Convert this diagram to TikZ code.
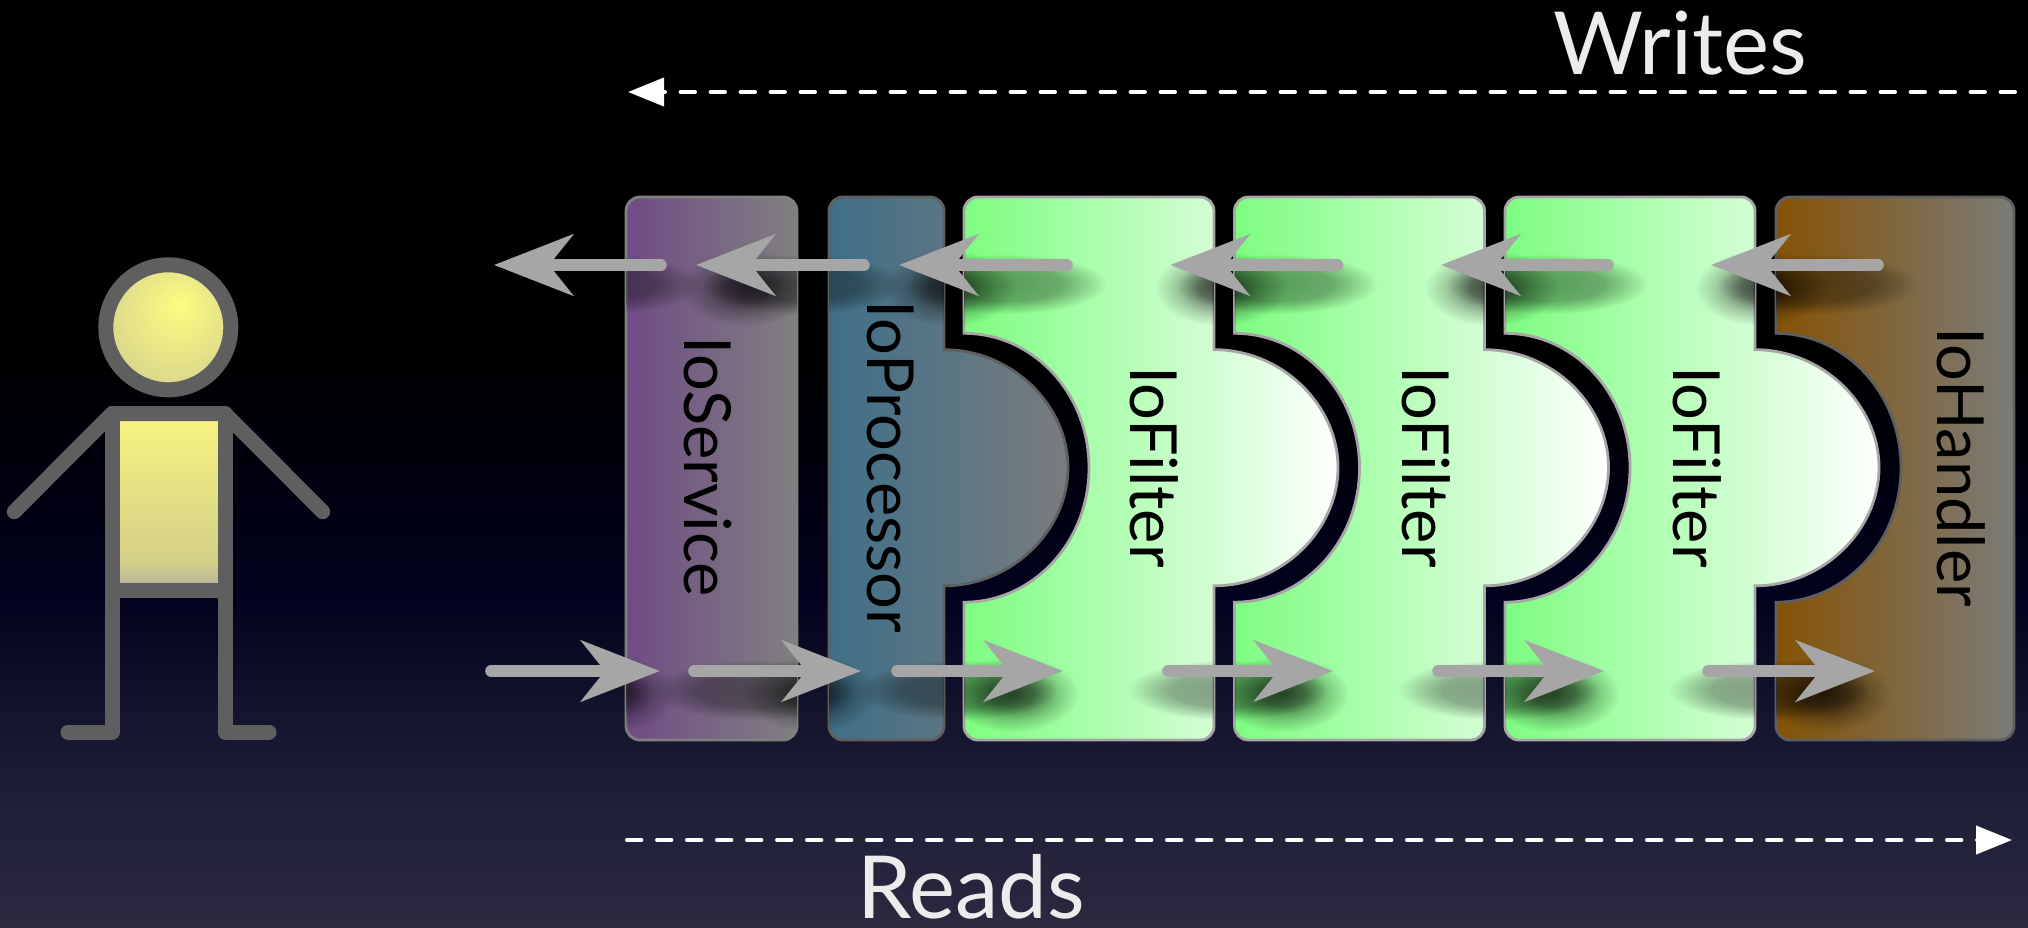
\documentclass[tikz,border=0pt]{standalone}
\usepackage{fontspec}
\setmainfont{Lato}
\usetikzlibrary{arrows.meta}
\usetikzlibrary{calc}
\usetikzlibrary{fadings}
\usetikzlibrary{positioning}

\definecolor{figgray}{HTML}{5F5F5F}
\definecolor{flowgray}{HTML}{A6A6A6}
\definecolor{labelgray}{HTML}{ECECEC}
\definecolor{serviceleft}{HTML}{6F4B85}
\definecolor{serviceright}{HTML}{808080}
\definecolor{procleft}{HTML}{3E6F88}
\definecolor{procright}{HTML}{7A7C7E}
\definecolor{handleft}{HTML}{855305}
\definecolor{handright}{HTML}{7B7B78}
\definecolor{filterleft}{HTML}{7DFD80}

\pgfdeclareverticalshading{backshade}{100bp}{
  rgb(0bp)=(0.17,0.16,0.25);
  rgb(25bp)=(0.17,0.16,0.25);
  rgb(31.8bp)=(0.12,0.12,0.22);
  rgb(37.2bp)=(0.07,0.07,0.17);
  rgb(42.6bp)=(0.01,0.01,0.12);
  rgb(49.1bp)=(0,0,0.06);
  rgb(56.1bp)=(0,0,0);
  rgb(100bp)=(0,0,0)}
\pgfdeclareverticalshading{bodyshade}{100bp}{
  rgb(0bp)=(0.70,0.70,0.63);
  rgb(25bp)=(0.70,0.70,0.63);
  rgb(33bp)=(0.83,0.81,0.53);
  rgb(75bp)=(0.97,0.96,0.50);
  rgb(100bp)=(0.97,0.96,0.50)}
\pgfdeclareradialshading{headshade}{\pgfpoint{4.8bp}{9.6bp}}{
  rgb(0bp)=(0.99,0.99,0.50);
  rgb(34bp)=(0.83,0.81,0.56);
  rgb(50bp)=(0.83,0.81,0.56)}

\pgfdeclareradialshading{headglowshade}{\pgfpointorigin}{
  color(0bp)=(pgftransparent!40);
  color(8bp)=(pgftransparent!50);
  color(17bp)=(pgftransparent!80);
  color(25bp)=(pgftransparent!100);
  color(50bp)=(pgftransparent!100)}
\pgfdeclareradialshading{stemglowshade}{\pgfpointorigin}{
  color(0bp)=(pgftransparent!62);
  color(14bp)=(pgftransparent!68);
  color(20bp)=(pgftransparent!85);
  color(25bp)=(pgftransparent!100);
  color(50bp)=(pgftransparent!100)}
\pgfdeclarefading{headglow}{\pgfuseshading{headglowshade}}
\pgfdeclarefading{stemglow}{\pgfuseshading{stemglowshade}}

\tikzset{
  block/.style={line width=1.4pt},
  flow/.style={line width=5.8pt,line cap=round,flowgray,-{Stealth[length=39.5pt,width=30.5pt,inset=12pt]}},
  direction/.style={line width=2pt,line cap=round,dash pattern=on 7.2pt off 7.8pt,white,-{Triangle[length=18pt,width=14pt]}},
  limb/.style={line width=7.5pt,figgray,line cap=round,line join=round},
  blocklabel/.style={rotate=-90,black,inner sep=0pt,font=\fontsize{32.5}{36}\selectfont},
  sidelabel/.style={labelgray,inner sep=0pt,font=\fontsize{43.5}{50}\selectfont}
}

\begin{document}
\begin{tikzpicture}[x=0.5pt,y=-0.5pt]

  \useasboundingbox (0,0) rectangle (2028,927);
  \shade [shading=backshade] (0,0) rectangle (2028,927);

  \coordinate (writes_from) at (2015,92);
  \coordinate (writes_to) at (628,92);
  \coordinate (reads_from) at (627,840);
  \coordinate (reads_to) at (2012,840);
  \draw [direction] (writes_from) -- (writes_to);
  \draw [direction] (reads_from) -- (reads_to);
  \node [sidelabel,anchor=base] (writes) at (1680,74) {Writes};
  \node [sidelabel,anchor=base] (reads) at (971,918) {Reads};

  % the person
  \shade [shading=bodyshade] (112,413) rectangle (225,590);
  \shade [shading=headshade] (168.3,327.3) circle (62.5);
  \draw [limb] (168.3,327.3) circle (62.5);
  \draw [limb] (14.3,511.7) -- (112,413.6) -- (225,413.6) -- (322.7,511.7);
  \draw [limb] (68,732) -- (112,732) -- (112,413.6);
  \draw [limb] (269,732) -- (225,732) -- (225,413.6);
  \draw [limb,line cap=butt] (112,590.3) -- (225,590.3);

  % the blocks
  \draw [block,draw=black!50!white,left color=serviceleft,right color=serviceright,rounded corners=7pt]
    (626,197) rectangle (797,740);

  \draw [block,draw=figgray,left color=procleft,right color=procright]
    (944,585.8) [rounded corners=7pt] -- (944,740) -- (829,740) -- (829,197) -- (944,197)
    [sharp corners] -- (944,349.7)
    .. controls (1012,349.7) and (1068,405) .. (1068,467.7)
    .. controls (1068,530) and (1012,585.8) .. (944,585.8) -- cycle;

  \foreach \x in {964,1234.5,1505} {
    \draw [block,draw=flowgray,left color=filterleft,right color=white,shift={(\x,0)}]
      (0,333.3) [rounded corners=7pt] -- (0,197) -- (250,197) [sharp corners] -- (250,349.7)
      .. controls (318,349.7) and (374,405) .. (374,467.7)
      .. controls (374,530) and (318,585.8) .. (250,585.8)
      [rounded corners=7pt] -- (250,740) -- (0,740) [sharp corners] -- (0,602.2)
      .. controls (69,602.2) and (125,542) .. (125,467.7)
      .. controls (125,393) and (69,333.3) .. (0,333.3) -- cycle;
  }

  \draw [block,draw=figgray,left color=handleft,right color=handright,shift={(1776,0)}]
    (0,333.3) [rounded corners=7pt] -- (0,197) -- (238,197) -- (238,740) -- (0,740) [sharp corners] -- (0,602.2)
    .. controls (69,602.2) and (125,542) .. (125,467.7)
    .. controls (125,393) and (69,333.3) .. (0,333.3) -- cycle;

  \node [blocklabel] (IoService) at (708,467) {IoService};
  \node [blocklabel] (IoProcessor) at (891,467) {IoProcessor};
  \node [blocklabel] (IoFilterA) at (1154,467) {IoFilter};
  \node [blocklabel] (IoFilterB) at (1426,467) {IoFilter};
  \node [blocklabel] (IoFilterC) at (1697,467) {IoFilter};
  \node [blocklabel] (IoHandler) at (1961,467) {IoHandler};

  % the flows
  \foreach \i/\tail/\head in {1/661/494,2/864/696,3/1067/899,4/1337.5/1170.5,5/1608/1441,6/1878/1711} {
    \coordinate (wtail\i) at (\tail,265);
    \coordinate (whead\i) at (\head,265);
  }
  \foreach \i/\tail/\head in {1/491/660,2/694/861,3/897/1063,4/1168/1333,5/1438/1604,6/1708/1875} {
    \coordinate (rtail\i) at (\tail,671);
    \coordinate (rhead\i) at (\head,671);
  }

  \begin{scope}
    \clip (626,197) rectangle (797,740) (829,197) rectangle (944,740)
      (964,197) rectangle (1214,740) (1234.5,197) rectangle (1484.5,740)
      (1505,197) rectangle (1755,740) (1776,197) rectangle (2014,740);
    \foreach \row/\dirn in {w/-1,r/1} {
      \foreach \i in {1,...,6} {
        \fill [black,path fading=stemglow] ($(\row tail\i)!0.36!(\row head\i)+(0,19)$) ellipse [x radius=100,y radius=30];
        \fill [black,path fading=headglow] ($(\row head\i)+(-50*\dirn,23)$) ellipse [x radius=66,y radius=38];
      }
    }
  \end{scope}

  \foreach \i in {1,...,6} {
    \draw [flow] (wtail\i) -- (whead\i);
    \draw [flow] (rtail\i) -- (rhead\i);
  }

\end{tikzpicture}
\end{document}
